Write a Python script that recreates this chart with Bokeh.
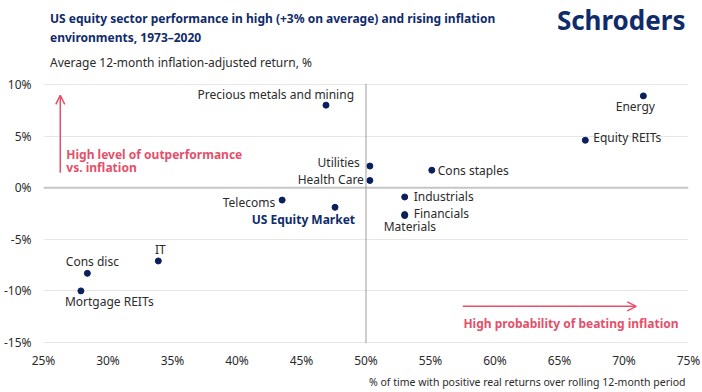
from bokeh.plotting import figure
from bokeh.layouts import column
from bokeh.models import (ColumnDataSource, Label, Arrow, OpenHead, Span,
                          FixedTicker, PrintfTickFormatter, Range1d)
from bokeh.core.properties import value
from bokeh.embed import file_html
from bokeh.resources import INLINE

# ---------------- data ----------------
sectors = ["Precious metals and mining", "Energy", "Equity REITs", "Utilities",
           "Health Care", "Cons staples", "Industrials", "Financials", "Materials",
           "Telecoms", "US Equity Market", "IT", "Cons disc", "Mortgage REITs"]
pct_time_positive = [46.9, 71.5, 67.0, 50.3, 50.3, 55.1, 53.0, 53.0, 53.0,
                     43.5, 47.6, 33.9, 28.4, 27.9]
avg_real_return = [8.0, 8.9, 4.6, 2.1, 0.7, 1.7, -0.9, -2.6, -2.7,
                   -1.2, -1.9, -7.1, -8.3, -10.0]
x_ticks = [25, 30, 35, 40, 45, 50, 55, 60, 65, 70, 75]
y_ticks = [-15, -10, -5, 0, 5, 10]

# ---------------- label styling (align, dx px, dy px) ----------------
label_style = {
    "Precious metals and mining": ("right", 28, -11),
    "Energy": ("center", -8, 11),
    "Equity REITs": ("left", 8, -3),
    "Utilities": ("right", -10, -4),
    "Health Care": ("right", -6, -1),
    "Cons staples": ("left", 6, 0),
    "Industrials": ("left", 9, 0),
    "Financials": ("left", 9, -1),
    "Materials": ("left", -21, 11),
    "Telecoms": ("right", -7, 2),
    "US Equity Market": ("right", 20, 12),
    "IT": ("center", 2, -11),
    "Cons disc": ("center", 5, -12),
    "Mortgage REITs": ("left", -16, 11),
}

NAVY = "#0f2b6b"
DOT = "#0b1f5c"
PINK = "#e4506a"
TXT = "#2b2b2b"
FONT = "Noto Sans"

W = 702
HEAD_H = 75
FOOT_H = 24
SPAN_X = 688


def blank_fig(h):
    f = figure(width=W, height=h, x_range=Range1d(0, SPAN_X), y_range=Range1d(h, 0),
               output_backend="svg", toolbar_location=None,
               x_axis_type=None, y_axis_type=None,
               min_border_left=0, min_border_right=0,
               min_border_top=0, min_border_bottom=0)
    f.outline_line_color = None
    f.grid.visible = False
    f.background_fill_color = "white"
    f.border_fill_color = "white"
    return f


# ---------------- header (title, logo, y-axis caption) ----------------
head = blank_fig(HEAD_H)
head.add_layout(Label(x=7, y=18, text="US equity sector performance in high (+3% on average) and rising inflation",
                      text_baseline="alphabetic", text_font=FONT, text_font_size="12px",
                      text_font_style="bold", text_color=NAVY))
head.add_layout(Label(x=7, y=37, text="environments, 1973–2020",
                      text_baseline="alphabetic", text_font=FONT, text_font_size="12px",
                      text_font_style="bold", text_color=NAVY))
head.add_layout(Label(x=SPAN_X, y=19, text="Schroders", text_align="right",
                      text_baseline="alphabetic", text_font=FONT, text_font_size="26px",
                      text_font_style="bold", text_color=NAVY))
head.add_layout(Label(x=7, y=62, text="Average 12-month inflation-adjusted return, %",
                      text_baseline="alphabetic", text_font=FONT, text_font_size="12px",
                      text_color=TXT))

# ---------------- main chart ----------------
p = figure(frame_width=645, frame_height=260,
           x_range=Range1d(25, 75), y_range=Range1d(-15.1, 10.1),
           output_backend="svg", toolbar_location=None,
           min_border_left=40, min_border_right=17, min_border_top=8,
           min_border_bottom=22)
p.outline_line_color = None
p.background_fill_color = "white"
p.border_fill_color = "white"

for ax in (p.xaxis[0], p.yaxis[0]):
    ax.axis_line_color = None
    ax.major_tick_line_color = None
    ax.minor_tick_line_color = None
    ax.major_label_text_font = FONT
    ax.major_label_text_font_size = "12px"
    ax.major_label_text_color = TXT
    ax.formatter = PrintfTickFormatter(format="%d%%")
p.xaxis.ticker = FixedTicker(ticks=x_ticks)
p.yaxis.ticker = FixedTicker(ticks=y_ticks)
p.xaxis.major_label_standoff = 2
p.yaxis.major_label_standoff = 6
p.xgrid.grid_line_color = None
p.ygrid.ticker = FixedTicker(ticks=y_ticks)
p.ygrid.grid_line_color = "#e6e6e6"
p.ygrid.grid_line_width = 1

p.add_layout(Span(location=0, dimension="width", line_color="#c6c6c6", line_width=2))
p.add_layout(Span(location=50, dimension="height", line_color="#9c9c9c", line_width=1))

src = ColumnDataSource(dict(x=pct_time_positive, y=avg_real_return, name=sectors))
p.scatter("x", "y", source=src, size=6, fill_color=DOT, line_color=DOT)


def label_source(names):
    idx = [sectors.index(n) for n in names]
    return ColumnDataSource(dict(
        x=[pct_time_positive[i] for i in idx],
        y=[avg_real_return[i] for i in idx],
        text=[sectors[i] for i in idx],
        align=[label_style[sectors[i]][0] for i in idx],
        dx=[label_style[sectors[i]][1] for i in idx],
        dy=[label_style[sectors[i]][2] for i in idx],
    ))


normal = [s for s in sectors if s != "US Equity Market"]
p.text("x", "y", text="text", source=label_source(normal), text_align="align",
       x_offset="dx", y_offset="dy", text_baseline="middle",
       text_font=value(FONT), text_font_size="12px", text_color=TXT)
p.text("x", "y", text="text", source=label_source(["US Equity Market"]),
       text_align="align", x_offset="dx", y_offset="dy", text_baseline="middle",
       text_font=value(FONT), text_font_size="12px", text_font_style="bold",
       text_color=NAVY)

p.add_layout(Arrow(x_start=26.3, y_start=1.45, x_end=26.3, y_end=8.95,
                   line_color=PINK, line_width=1.5,
                   end=OpenHead(size=9, line_color=PINK, line_width=1.5)))
p.add_layout(Arrow(x_start=57.5, y_start=-11.5, x_end=70.95, y_end=-11.5,
                   line_color=PINK, line_width=1.5,
                   end=OpenHead(size=9, line_color=PINK, line_width=1.5)))
for txt, x, y in [("High level of outperformance", 26.77, 3.19),
                  ("vs. inflation", 26.77, 1.96),
                  ("High probability of beating inflation", 57.55, -13.18)]:
    p.add_layout(Label(x=x, y=y, text=txt, text_baseline="middle",
                       text_font=FONT, text_font_size="12px",
                       text_font_style="bold", text_color=PINK))

# ---------------- footer (x-axis caption) ----------------
foot = blank_fig(FOOT_H)
foot.add_layout(Label(x=SPAN_X, y=10, text="% of time with positive real returns over rolling 12-month period",
                      text_align="right", text_baseline="alphabetic", text_font=FONT,
                      text_font_size="10.5px", text_color=TXT))

layout = column(head, p, foot, spacing=0)
open("out.html", "w").write(file_html(layout, INLINE))
